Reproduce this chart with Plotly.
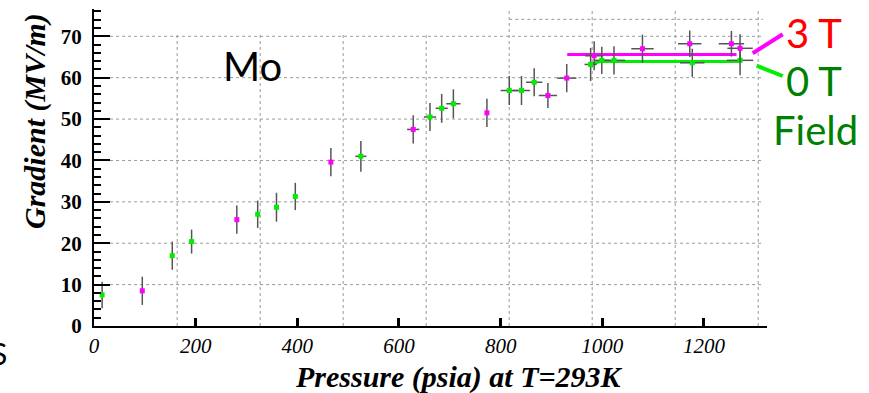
import plotly.graph_objects as go

# Measured accelerating gradient vs. gas pressure, Mo electrode
p_0T = [16, 154, 192, 322, 359, 396, 525, 661, 684, 707, 817, 841, 866, 977, 999, 1023, 1177, 1271]
g_0T = [7.5, 17.0, 20.4, 27.0, 28.7, 31.3, 41.0, 50.5, 52.6, 53.7, 56.9, 56.9, 58.9, 63.2, 64.2, 64.2, 63.6, 64.2]
gerr_0T = [3.2, 3.4, 2.9, 3.3, 3.5, 3.3, 3.7, 3.4, 3.5, 3.5, 3.5, 3.5, 3.4, 4.0, 3.3, 3.4, 3.4, 3.6]
perr_0T = [0, 0, 0, 0, 0, 0, 11, 12, 12, 14, 17, 17, 16, 12, 14, 22, 24, 26]

p_3T = [95, 281, 466, 628, 773, 893, 930, 984, 1079, 1172, 1254, 1271]
g_3T = [8.5, 25.7, 39.6, 47.5, 51.5, 55.7, 59.9, 65.3, 67.0, 68.2, 68.2, 67.1]
gerr_3T = [3.4, 3.4, 3.4, 3.4, 3.4, 3.0, 3.4, 3.5, 3.4, 3.2, 3.1, 3.4]
perr_3T = [0, 0, 0, 12, 0, 18, 19, 18, 22, 23, 25, 25]

# Plateau levels at high pressure
fit_0T_x = [977, 995, 1271]
fit_0T_y = [63.2, 63.9, 63.9]
fit_3T_x = [931, 1264]
fit_3T_y = [65.6, 65.6]

x_ticks = [0, 200, 400, 600, 800, 1000, 1200]
y_ticks = [0, 10, 20, 30, 40, 50, 60, 70]

X_MAX = 1324
Y_MAX = 76.6

# plot area in pixels
L, R, T, B = 94, 767, 9, 326
W, H = 869, 393


def px(x):
    return (x - L) / (R - L)


def py(y):
    return (B - y) / (B - T)


GREEN = "#00ee00"
MAGENTA = "#ff00ff"
ERR = "#555555"

fig = go.Figure()

for xs, ys, c in [(fit_3T_x, fit_3T_y, MAGENTA), (fit_0T_x, fit_0T_y, GREEN)]:
    fig.add_trace(go.Scatter(x=xs, y=ys, mode="lines",
                             line=dict(color=c, width=3), hoverinfo="skip"))

for xs, ys, ey, ex, c in [(p_0T, g_0T, gerr_0T, perr_0T, GREEN),
                          (p_3T, g_3T, gerr_3T, perr_3T, MAGENTA)]:
    fig.add_trace(go.Scatter(
        x=xs, y=ys, mode="markers",
        marker=dict(symbol="square", size=5, color=c, line=dict(width=0)),
        error_y=dict(type="data", array=ey, color=ERR, thickness=1.5, width=0),
        error_x=dict(type="data", array=ex, color=ERR, thickness=1.5, width=0),
    ))

# dotted background grid
shapes = []
grid_line = dict(color="#999999", width=1, dash="dot")
for yv in [10, 20, 30, 40, 50, 60, 70]:
    shapes.append(dict(type="line", xref="x", yref="y", x0=8, x1=1316, y0=yv, y1=yv,
                       line=grid_line, layer="below"))
shapes.append(dict(type="line", xref="x", yref="y", x0=817, x1=1316, y0=74.1, y1=74.1,
                   line=grid_line, layer="below"))
for i in range(8):
    xv = 163.6 + 163.3 * i
    top = 71.0 if i < 4 else 76.4
    shapes.append(dict(type="line", xref="x", yref="y", x0=xv, x1=xv, y0=0, y1=top,
                       line=grid_line, layer="below"))

# legend strokes beside the plateau lines
shapes.append(dict(type="line", xref="paper", yref="paper",
                   x0=px(752.7), y0=py(53.3), x1=px(782.7), y1=py(34.3),
                   line=dict(color=MAGENTA, width=4)))
shapes.append(dict(type="line", xref="paper", yref="paper",
                   x0=px(756.7), y0=py(65.7), x1=px(782.7), y1=py(76),
                   line=dict(color=GREEN, width=4)))

serif = "Liberation Serif"
sans = "Lato"


def label(text, x, y, font, xanchor="center", **kw):
    return dict(text=text, x=px(x), y=py(y), xref="paper", yref="paper", showarrow=False,
                xanchor=xanchor, yanchor="middle", font=font, **kw)


title_font = dict(family=serif, size=30, color="black", weight="bold", style="italic")
annotations = [
    label("Mo", 252, 66, dict(family=sans, size=40, color="black")),
    label("3 T", 784, 33, dict(family=sans, size=40, color="#ff0000"), xanchor="left"),
    label("0 T", 784, 81, dict(family=sans, size=40, color="#008000"), xanchor="left"),
    label("Field", 771, 130, dict(family=sans, size=40, color="#008000"), xanchor="left"),
    label("S", 9, 353, dict(family=sans, size=30, color="black"), xanchor="right"),
    label("Pressure (psia) at T=293K", 459, 377, title_font),
    label("Gradient (MV/m)", 35, 121, title_font, textangle=-90),
]

fig.update_layout(
    width=W, height=H,
    margin=dict(l=L, r=W - R, t=T, b=H - B, pad=0),
    paper_bgcolor="white", plot_bgcolor="white",
    showlegend=False,
    shapes=shapes,
    annotations=annotations,
    xaxis=dict(range=[0, X_MAX], tickvals=x_ticks, ticktext=[str(v) for v in x_ticks],
               showgrid=False, zeroline=False, showline=True, linecolor="black", linewidth=2,
               ticks="inside", ticklen=8, tickwidth=3, tickcolor="black",
               tickfont=dict(family=serif, size=21, color="black", style="italic")),
    yaxis=dict(range=[0, Y_MAX], tickvals=y_ticks, ticktext=[str(v) for v in y_ticks],
               showgrid=False, zeroline=False, showline=True, linecolor="black", linewidth=2,
               ticks="inside", ticklen=16, tickwidth=2, tickcolor="black",
               ticklabelstandoff=6,
               minor=dict(dtick=2, ticks="inside", ticklen=7, tickwidth=1.5, tickcolor="black",
                          showgrid=False),
               tickfont=dict(family=serif, size=21, color="black", weight="bold")),
)

fig.write_html("out.html")
